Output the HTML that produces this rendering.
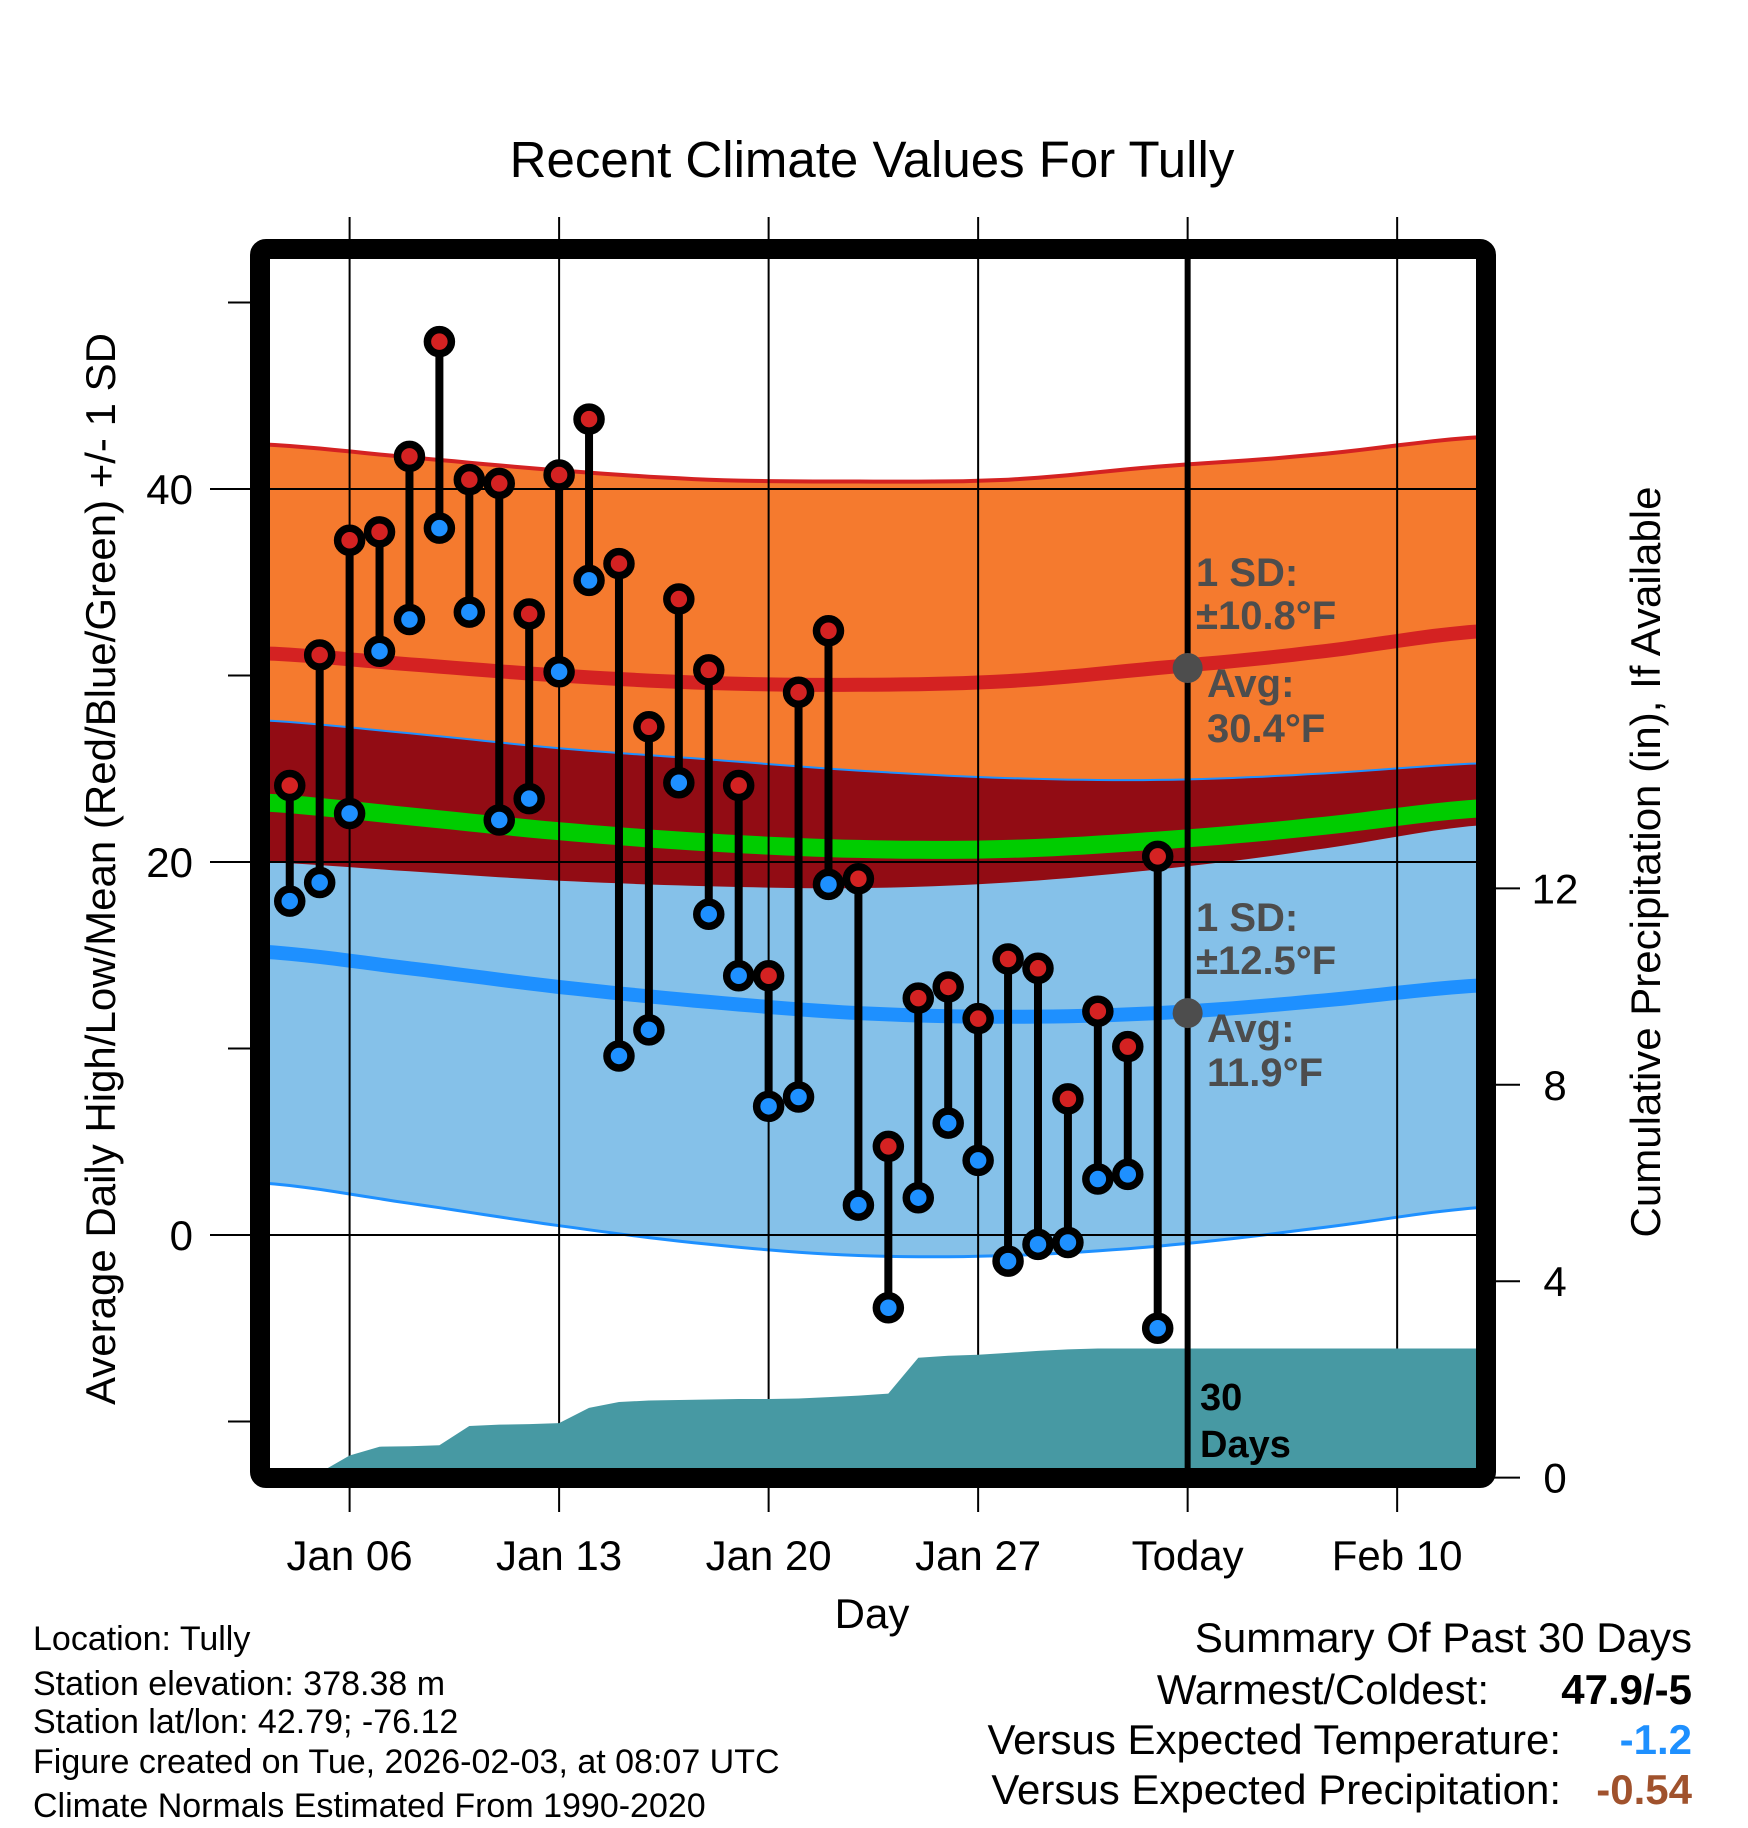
<!DOCTYPE html>
<html><head><meta charset="utf-8"><style>
html,body{margin:0;padding:0;background:#fff;}
svg{display:block;font-family:"Liberation Sans",Arial,sans-serif;}
</style></head><body>
<svg id="c" width="1748" height="1828" viewBox="0 0 1748 1828" xmlns="http://www.w3.org/2000/svg">
<defs><clipPath id="pc"><rect x="270" y="259" width="1207" height="1209"/></clipPath></defs>
<text x="872" y="177" font-size="51" text-anchor="middle">Recent Climate Values For Tully</text>
<g id="plot" clip-path="url(#pc)"></g>
<g id="over"></g>
<text transform="translate(115,869) rotate(-90)" font-size="42" text-anchor="middle">Average Daily High/Low/Mean (Red/Blue/Green) +/- 1 SD</text>
<text transform="translate(1660,862) rotate(-90)" font-size="42" text-anchor="middle">Cumulative Precipitation (in), If Available</text>
<text x="872" y="1628" font-size="42" text-anchor="middle">Day</text>
<g font-size="34">
<text x="33" y="1650">Location: Tully</text>
<text x="33" y="1695">Station elevation: 378.38 m</text>
<text x="33" y="1733">Station lat/lon: 42.79; -76.12</text>
<text x="33" y="1773">Figure created on Tue, 2026-02-03, at 08:07 UTC</text>
<text x="33" y="1817">Climate Normals Estimated From 1990-2020</text>
</g>
<g font-size="42" text-anchor="end">
<text x="1692" y="1652">Summary Of Past 30 Days</text>
<text x="1489" y="1704">Warmest/Coldest:</text>
<text x="1692" y="1704" font-weight="bold">47.9/-5</text>
<text x="1561" y="1754">Versus Expected Temperature:</text>
<text x="1692" y="1754" font-weight="bold" fill="#1e90ff">-1.2</text>
<text x="1561" y="1804">Versus Expected Precipitation:</text>
<text x="1692" y="1804" font-weight="bold" fill="#a0522d">-0.54</text>
</g>
</svg>
<script>
// ---- data ----
const obsDays = [4,5,6,7,8,9,10,11,12,13,14,15,16,17,18,19,20,21,22,23,24,25,26,27,28,29,30,31,32,33];
const highs = [24.1,31.1,37.25,37.7,41.75,47.9,40.5,40.3,33.3,40.75,43.75,36,27.25,34.1,30.3,24.1,13.9,29.1,32.4,19.1,4.75,12.7,13.3,11.6,14.8,14.3,7.3,12,10.1,20.3];
const lows = [17.9,18.9,22.6,31.3,33,37.9,33.4,22.25,23.4,30.2,35.1,9.6,11,24.25,17.2,13.9,6.9,7.4,18.8,1.6,-3.9,2,6,4,-1.4,-0.5,-0.4,3,3.25,-5];
const precip = [0,0.1,0.45,0.63,0.64,0.66,1.05,1.08,1.09,1.11,1.42,1.54,1.57,1.58,1.59,1.6,1.6,1.61,1.64,1.67,1.71,2.44,2.48,2.5,2.54,2.58,2.61,2.63,2.63,2.63];
const normDays = [3,8,13,18,23,28,33,38,44];
const hiMean = [31.2,30.6,30.0,29.6,29.5,29.7,30.4,31.2,32.4];
const hiSd = [11.2,11.1,11.0,10.9,10.9,10.8,10.8,10.6,10.4];
const loMean = [15.2,14.3,13.3,12.5,11.9,11.7,11.9,12.5,13.4];
const loSd = [12.4,12.6,12.8,13.0,13.0,12.8,12.5,12.2,11.9];
const yTicks = [0,20,40];
const yMinor = [-10,10,30,50];
const pTicks = [0,4,8,12];
const xTickDays = [6,13,20,27,34,41];
const xTickLabels = ["Jan 06","Jan 13","Jan 20","Jan 27","Today","Feb 10"];
const todayDay = 34;
// ---- scales ----
const X = d => 349.6 + (d-6)*29.93;
const Y = t => 1235 - t*18.65;
const P = p => 1477.6 - p*49.1;
const NS = "http://www.w3.org/2000/svg";
function mk(tag, attrs, parent){const e=document.createElementNS(NS,tag);for(const k in attrs)e.setAttribute(k,attrs[k]);parent.appendChild(e);return e;}
const plot=document.getElementById('plot'), over=document.getElementById('over'), svg=document.getElementById('c');
const pts=(arr)=>arr.map(p=>p[0].toFixed(1)+','+p[1].toFixed(1)).join(' ');
// smooth Catmull-Rom sampling of a series defined on normDays
function smooth(vals){
  const out=[];const n=normDays.length;
  for(let i=0;i<n-1;i++){
    const p0=vals[Math.max(0,i-1)],p1=vals[i],p2=vals[i+1],p3=vals[Math.min(n-1,i+2)];
    for(let s=0;s<10;s++){const t=s/10;
      const v=0.5*((2*p1)+(-p0+p2)*t+(2*p0-5*p1+4*p2-p3)*t*t+(-p0+3*p1-3*p2+p3)*t*t*t);
      out.push([X(normDays[i]+(normDays[i+1]-normDays[i])*t),Y(v)]);}
  }
  out.push([X(normDays[n-1]),Y(vals[n-1])]);return out;
}
const hiU=smooth(hiMean.map((m,i)=>m+hiSd[i]));
const hiL=smooth(hiMean.map((m,i)=>m-hiSd[i]));
const loU=smooth(loMean.map((m,i)=>m+loSd[i]));
const loL=smooth(loMean.map((m,i)=>m-loSd[i]));
let e;
e=mk('polygon',{points:pts(hiU.concat(hiL.slice().reverse())),fill:'#f57a2e'},plot);

e=mk('polygon',{points:pts(loU.concat(loL.slice().reverse())),fill:'#85c1e9'},plot);

e=mk('polygon',{points:pts(loU.concat(hiL.slice().reverse())),fill:'#920c14'},plot);

e=mk('polyline',{points:pts(hiU),fill:'none',stroke:'#d42222','stroke-width':4},plot);

e=mk('polyline',{points:pts(loU),fill:'none',stroke:'#1e90ff','stroke-width':2},plot);

e=mk('polyline',{points:pts(loL),fill:'none',stroke:'#1e90ff','stroke-width':3},plot);

e=mk('polyline',{points:pts(smooth(hiMean)),fill:'none',stroke:'#d42222','stroke-width':14},plot);

e=mk('polyline',{points:pts(smooth(loMean)),fill:'none',stroke:'#1e90ff','stroke-width':14},plot);

e=mk('polyline',{points:pts(smooth(hiMean.map((m,i)=>(m+loMean[i])/2))),fill:'none',stroke:'#00cc00','stroke-width':18},plot);

// gridlines
yTicks.forEach(t=>{e=mk('line',{x1:270,x2:1477,y1:Y(t),y2:Y(t),stroke:'#000','stroke-width':2},plot);
});
xTickDays.forEach(d=>{e=mk('line',{x1:X(d),x2:X(d),y1:259,y2:1468,stroke:'#000','stroke-width':2},plot);
});
// precip area
const pa=obsDays.map((d,i)=>[X(d),P(precip[i])]);
pa.push([1480,P(precip[precip.length-1])]);
const area=[[X(obsDays[0]),P(0)]].concat(pa).concat([[1480,P(0)]]);
e=mk('polygon',{points:pts(area),fill:'#4799a3'},plot);

// today line
e=mk('line',{x1:X(todayDay),x2:X(todayDay),y1:259,y2:1468,stroke:'#000','stroke-width':6},over);

// annotations
const todayIdx=6;
[[hiMean[todayIdx],'#4d4d4d'],[loMean[todayIdx],'#4d4d4d']].forEach(a=>{e=mk('circle',{cx:X(todayDay),cy:Y(a[0]),r:15,fill:a[1]},over);
});
const ann=[[1196,586,'1 SD:'],[1196,629,'±10.8°F'],[1207,697,'Avg:'],[1207,742,'30.4°F'],[1196,931,'1 SD:'],[1196,974,'±12.5°F'],[1207,1042,'Avg:'],[1207,1086,'11.9°F']];
ann.forEach(a=>{e=mk('text',{x:a[0],y:a[1],'font-size':40,'font-weight':'bold',fill:'#4d4d4d'},over);e.textContent=a[2];
});
[[1200,1410,'30'],[1200,1457,'Days']].forEach(a=>{e=mk('text',{x:a[0],y:a[1],'font-size':38,'font-weight':'bold',fill:'#000'},over);e.textContent=a[2];
});
// stems + markers
obsDays.forEach((d,i)=>{e=mk('line',{x1:X(d),x2:X(d),y1:Y(highs[i]),y2:Y(lows[i]),stroke:'#000','stroke-width':8},over);
});
obsDays.forEach((d,i)=>{
e=mk('circle',{cx:X(d),cy:Y(lows[i]),r:12,fill:'#1e90ff',stroke:'#000','stroke-width':7.5},over);

e=mk('circle',{cx:X(d),cy:Y(highs[i]),r:12,fill:'#d42222',stroke:'#000','stroke-width':7.5},over);

});
// frame
e=mk('rect',{x:260,y:249,width:1226,height:1229,rx:6,fill:'none',stroke:'#000','stroke-width':20},svg);

// axes ticks
yTicks.forEach(t=>{e=mk('line',{x1:210,x2:252,y1:Y(t),y2:Y(t),stroke:'#000','stroke-width':2},svg);

e=mk('text',{x:193,y:Y(t)+15,'font-size':42,'text-anchor':'end'},svg);e.textContent=t;
});
yMinor.forEach(t=>{e=mk('line',{x1:228,x2:252,y1:Y(t),y2:Y(t),stroke:'#000','stroke-width':2},svg);
});
pTicks.forEach(p=>{e=mk('line',{x1:1494,x2:1520,y1:P(p),y2:P(p),stroke:'#000','stroke-width':2},svg);

e=mk('text',{x:1555,y:P(p)+15,'font-size':42,'text-anchor':'middle'},svg);e.textContent=p;
});
xTickDays.forEach((d,i)=>{
e=mk('line',{x1:X(d),x2:X(d),y1:217,y2:250,stroke:'#000','stroke-width':2},svg);

e=mk('line',{x1:X(d),x2:X(d),y1:1486,y2:1512,stroke:'#000','stroke-width':2},svg);

e=mk('text',{x:X(d),y:1570,'font-size':42,'text-anchor':'middle'},svg);e.textContent=xTickLabels[i];
});
</script>
</body></html>
